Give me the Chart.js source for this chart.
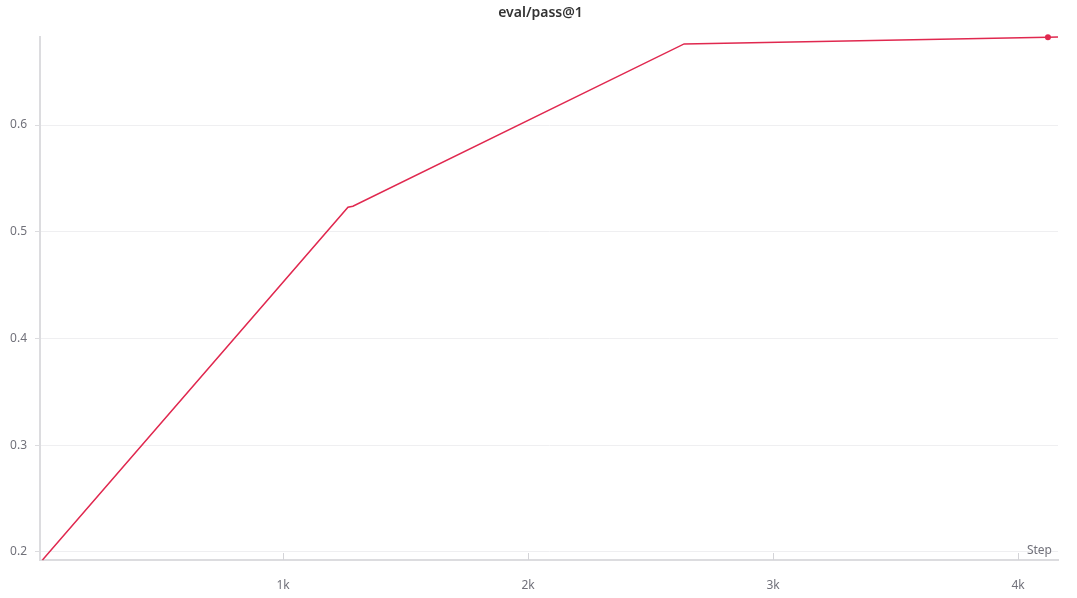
<!DOCTYPE html>
<html>
<head>
    <title>eval/pass@1</title>
    <style>
        body { margin: 0px; background-color: #ffffff; }
        #wrap { width: 1077px; height: 598px; }
    </style>
    <script src="https://cdn.jsdelivr.net/npm/chart.js"></script>
</head>
<body>
    <div id="wrap"><canvas id="myChart"></canvas></div>
<script>
// data
const steps = [18, 1265, 1285, 2637, 4122, 4163];
const passAt1 = [0.1925, 0.523, 0.524, 0.676, 0.6822, 0.6824];
const xTicks = [1000, 2000, 3000, 4000];
const xTickLabels = ["1k", "2k", "3k", "4k"];
const yTicks = [0.2, 0.3, 0.4, 0.5, 0.6];
const dotRadius = [0, 0, 0, 0, 3, 0];

const lineColor = '#e0284f';
const tickColor = '#71717a';

// title + "Step" label + little x tick marks pointing up into the plot
const extras = {
    id: 'extras',
    afterDraw(chart) {
        const ctx = chart.ctx;
        const area = chart.chartArea;
        const xs = chart.scales.x;
        ctx.save();
        ctx.font = '600 14px "Noto Sans", Lato, sans-serif';
        ctx.fillStyle = '#333333';
        ctx.textAlign = 'center';
        ctx.textBaseline = 'middle';
        ctx.fillText('eval/pass@1', chart.width / 2 + 2, 13);

        ctx.font = '12px "Noto Sans", Lato, sans-serif';
        ctx.fillStyle = tickColor;
        ctx.textAlign = 'right';
        ctx.textBaseline = 'bottom';
        ctx.fillText('Step', area.right - 6, area.bottom - 3);

        ctx.strokeStyle = '#d4d4d8';
        ctx.lineWidth = 1;
        xTicks.forEach(v => {
            const px = Math.round(xs.getPixelForValue(v)) + 0.5;
            ctx.beginPath();
            ctx.moveTo(px, area.bottom);
            ctx.lineTo(px, area.bottom - 7);
            ctx.stroke();
        });
        ctx.restore();
    }
};

new Chart(document.getElementById('myChart').getContext('2d'), {
    type: 'line',
    data: {
        datasets: [{
            label: 'eval/pass@1',
            data: steps.map((s, i) => ({ x: s, y: passAt1[i] })),
            borderColor: lineColor,
            backgroundColor: lineColor,
            borderWidth: 1.5,
            pointRadius: dotRadius,
            pointHoverRadius: dotRadius,
            pointBorderWidth: 0,
            tension: 0,
            clip: false
        }]
    },
    options: {
        responsive: true,
        maintainAspectRatio: false,
        animation: false,
        layout: { padding: { top: 37, right: 19, left: 0, bottom: 0 } },
        plugins: {
            legend: { display: false },
            title: { display: false },
            tooltip: { enabled: false }
        },
        scales: {
            x: {
                type: 'linear',
                min: 8,
                max: 4163,
                afterBuildTicks: scale => {
                    scale.ticks = xTicks.map(v => ({ value: v }));
                },
                afterFit: scale => { scale.height = 38; },
                ticks: {
                    color: tickColor,
                    font: { family: '"Noto Sans", Lato, sans-serif', size: 12 },
                    padding: 10,
                    maxRotation: 0,
                    callback: (v) => xTickLabels[xTicks.indexOf(v)]
                },
                grid: { display: false },
                border: { color: '#dcdcdf', width: 2 }
            },
            y: {
                min: 0.1925,
                max: 0.6825,
                afterBuildTicks: scale => {
                    scale.ticks = yTicks.map(v => ({ value: v }));
                },
                afterFit: scale => { scale.width = 40; },
                ticks: {
                    color: tickColor,
                    font: { family: '"Noto Sans", Lato, sans-serif', size: 12 },
                    padding: 8,
                    callback: (v) => v.toFixed(1)
                },
                grid: {
                    color: '#efeff1',
                    lineWidth: 1,
                    tickLength: 5,
                    tickColor: '#dcdcdf'
                },
                border: { color: '#dcdcdf', width: 2 }
            }
        }
    },
    plugins: [extras]
});
</script>
</body>
</html>
